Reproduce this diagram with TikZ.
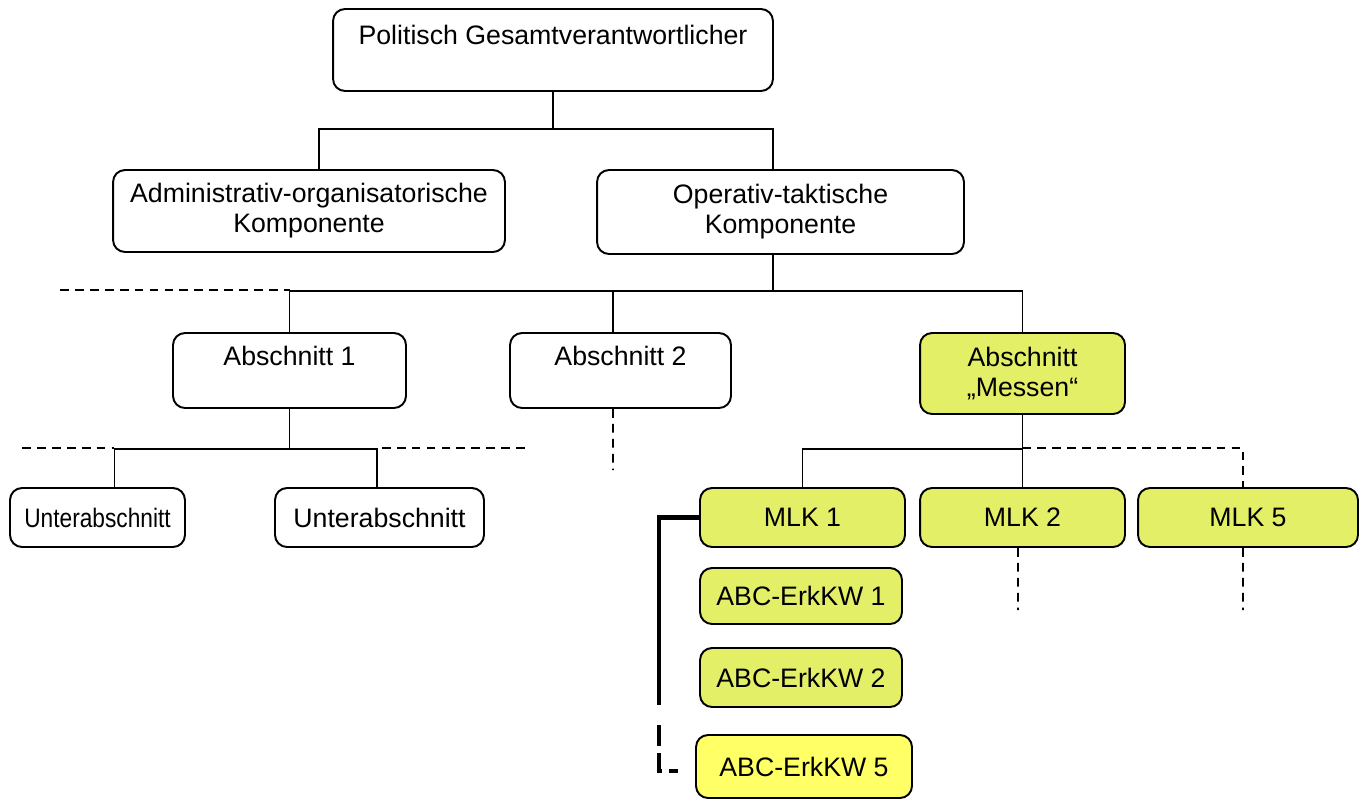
\documentclass[tikz,border=0pt]{standalone}
\usepackage{fontspec}
\setmainfont{Liberation Sans}
\definecolor{messgelb}{HTML}{E3EF66}
\definecolor{erkgelb}{HTML}{FFFF66}
\begin{document}
\begin{tikzpicture}[x=0.02cm,y=-0.02cm]
\tikzstyle{box} = [rectangle, rounded corners=0.24cm, draw=black, line width=1.1pt, align=center, inner sep=0pt, font=\fontsize{15.2}{17}\selectfont]
\tikzstyle{mess} = [box, fill=messgelb]
\tikzstyle{link} = [line width=0.8pt]
\tikzstyle{dashline} = [line width=0.9pt, dash pattern=on 5pt off 3.5pt]
\tikzstyle{bracket} = [line width=2.8pt]
\useasboundingbox (0,0) rectangle (1365,798);
% Leitung
\node (top) [box, minimum width=8.8cm, minimum height=1.64cm] at (553,50) {Politisch Gesamtverantwortlicher\\ \mbox{}};
\node (admin) [box, minimum width=7.84cm, minimum height=1.64cm] at (309,211) {Administrativ-organisatorische\\Komponente};
\node (oper) [box, minimum width=7.34cm, minimum height=1.68cm] at (780.5,212) {Operativ-taktische\\Komponente};
% Abschnitte
\node (ab1) [box, minimum width=4.66cm, minimum height=1.5cm] at (289.5,370.5) {Abschnitt 1\\ \mbox{}};
\node (ab2) [box, minimum width=4.42cm, minimum height=1.5cm] at (620.5,370.5) {Abschnitt 2\\ \mbox{}};
\node (messen) [mess, minimum width=4.1cm, minimum height=1.62cm] at (1022.5,373.5) {Abschnitt\\„Messen“};
\node (ua1) [box, minimum width=3.5cm, minimum height=1.18cm] at (97.5,517.5) {\scalebox{0.85}[1]{Unterabschnitt}};
\node (ua2) [box, minimum width=4.18cm, minimum height=1.18cm] at (379.5,517.5) {Unterabschnitt};
% Messleitkomponenten
\node (mlk1) [mess, minimum width=4.1cm, minimum height=1.18cm] at (802.5,517.5) {MLK 1};
\node (mlk2) [mess, minimum width=4.1cm, minimum height=1.18cm] at (1022.5,517.5) {MLK 2};
\node (mlk5) [mess, minimum width=4.4cm, minimum height=1.18cm] at (1248,517.5) {MLK 5};
\node (abc1) [mess, minimum width=4.04cm, minimum height=1.12cm] at (801,596) {ABC-ErkKW 1};
\node (abc2) [mess, minimum width=4.04cm, minimum height=1.18cm] at (801,677.5) {ABC-ErkKW 2};
\node (abc5) [box, fill=erkgelb, minimum width=4.32cm, minimum height=1.26cm] at (804,766.5) {ABC-ErkKW 5};
% Verbindungen
\draw [link] (top.south) -- ++(0,37) -| ([xshift=0.2cm]admin.north);
\draw [link] (top.south) -- ++(0,37) -| ([xshift=-0.15cm]oper.north);
\draw [link] ([xshift=-0.15cm]oper.south) -- ++(0,36) -| (ab1.north);
\draw [link] ([xshift=-0.15cm]oper.south) -- ++(0,36) -| ([xshift=-0.15cm]ab2.north);
\draw [link] ([xshift=-0.15cm]oper.south) -- ++(0,36) -| (messen.north);
\draw [link] (ab1.south) -- ++(0,40) -| ([xshift=0.34cm]ua1.north);
\draw [link] (ab1.south) -- ++(0,40) -| ([xshift=-0.05cm]ua2.north);
\draw [link] (messen.south) -- ++(0,34) -| (mlk1.north);
\draw [link] (messen.south) -- (mlk2.north);
% offene Enden
\coordinate (offA) at (60,290);
\coordinate (offB) at (22,448);
\coordinate (offC) at (525,448);
\coordinate (offD) at (613,470);
\coordinate (offE) at (1018,610);
\coordinate (offF) at (1243,610);
\draw [dashline] (offA) -- (offA -| ab1.north);
\draw [dashline] (offB) -- ([xshift=0.34cm]ua1.north |- offB);
\draw [dashline] (offC) -- ([xshift=-0.05cm]ua2.north |- offC);
\draw [dashline] ([xshift=-0.15cm]ab2.south) -- (offD);
\draw [dashline] (messen.south |- offB) -| ([xshift=-0.1cm]mlk5.north);
\draw [dashline] ([xshift=-0.09cm]mlk2.south) -- (offE);
\draw [dashline] ([xshift=-0.1cm]mlk5.south) -- (offF);
% Klammer
\coordinate (brkA) at (659,705);
\coordinate (brkB) at (659,725);
\coordinate (brkC) at (678,771);
\draw [bracket] (mlk1.west) -| (brkA);
\draw [bracket, dash pattern=on 12pt off 4pt] (brkB) |- (brkC);
\end{tikzpicture}
\end{document}
